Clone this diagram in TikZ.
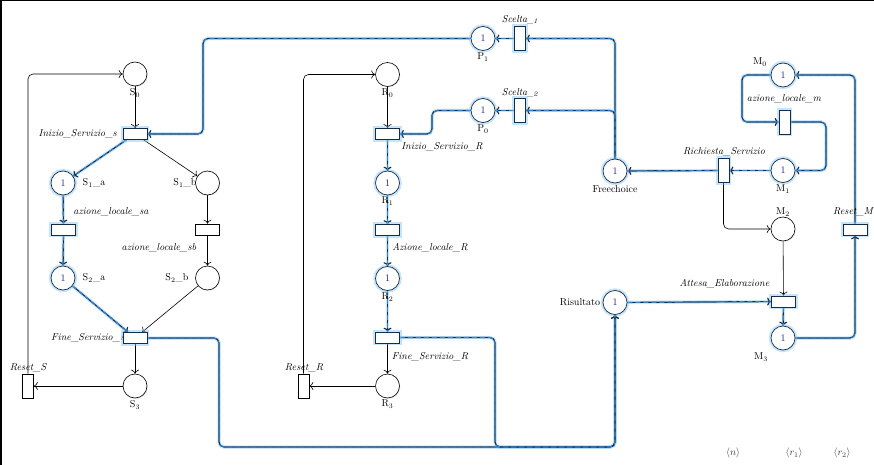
\documentclass[tikz,border=0pt]{standalone}
\usetikzlibrary{shadows,arrows.meta}
\definecolor{glowc}{RGB}{130,195,240}
\definecolor{hlblue}{RGB}{50,130,205}
\definecolor{hldark}{RGB}{20,45,75}
\definecolor{tokc}{RGB}{30,30,150}
\pgfdeclarelayer{bg}
\pgfsetlayers{bg,main}
\begin{document}
\begin{tikzpicture}[x=1pt,y=-1pt,>={To[length=4pt,width=8pt]},
  font=\fontsize{10}{12}\selectfont,
  shad/.style={drop shadow={opacity=0.2,shadow xshift=0.8pt,shadow yshift=-0.8pt}},
  glow/.style={preaction={draw=glowc,line width=4.5pt,opacity=0.45}},
  place/.style={circle,draw,line width=0.6pt,minimum size=24pt,inner sep=0pt,fill=white,shad},
  hplace/.style={circle,draw=hldark,line width=0.7pt,minimum size=24pt,inner sep=0pt,fill=white,text=tokc,glow},
  trans/.style={rectangle,draw,line width=0.6pt,minimum width=24pt,minimum height=11pt,inner sep=0pt,fill=white,shad},
  vtrans/.style={rectangle,draw,line width=0.6pt,minimum width=11pt,minimum height=24pt,inner sep=0pt,fill=white,shad},
  htrans/.style={rectangle,draw=hldark,line width=0.7pt,minimum width=24pt,minimum height=11pt,inner sep=0pt,fill=white,glow},
  hvtrans/.style={rectangle,draw=hldark,line width=0.7pt,minimum width=11pt,minimum height=24pt,inner sep=0pt,fill=white,glow},
  lab/.style={inner sep=0pt},
  tlab/.style={inner sep=0pt,font=\fontsize{10}{12}\selectfont\itshape},
  arc/.style={->,line width=0.6pt,rounded corners=5pt},
  harc/.style={->,draw=hldark,line width=1.2pt,rounded corners=5pt,
    preaction={draw=glowc,line width=3.5pt,opacity=0.4,-},
    postaction={draw=hlblue,line width=1.1pt,dash pattern=on 5pt off 3pt,-}}
]
\useasboundingbox (0,0) rectangle (874,465);
\draw[line width=1.5pt] (0.75,465) -- (0.75,0.75) -- (874,0.75);

% labels
\node[lab] (lS0) at (135,93) {S\textsubscript{0}};
\node[lab] (lS1a) at (94,183) {S\textsubscript{1}\_a};
\node[lab] (lS1b) at (185,183) {S\textsubscript{1}\_b};
\node[lab] (lS2a) at (94,278) {S\textsubscript{2}\_a};
\node[lab] (lS2b) at (177,278) {S\textsubscript{2}\_b};
\node[lab] (lS3) at (135,405) {S\textsubscript{3}};
\node[lab] (lR0) at (387.5,93) {R\textsubscript{0}};
\node[lab] (lR1) at (387.5,201) {R\textsubscript{1}};
\node[lab] (lR2) at (387.5,297) {R\textsubscript{2}};
\node[lab] (lR3) at (387.5,404) {R\textsubscript{3}};
\node[lab] (lP1) at (483,57) {P\textsubscript{1}};
\node[lab] (lP0) at (483,129) {P\textsubscript{0}};
\node[lab] (lFc) at (615,189) {Freechoice};
\node[lab] (lM0) at (760,62) {M\textsubscript{0}};
\node[lab] (lM1) at (783,189) {M\textsubscript{1}};
\node[lab] (lM2) at (783,212) {M\textsubscript{2}};
\node[lab] (lM3) at (761,357) {M\textsubscript{3}};
\node[lab] (lRis) at (580,302) {Risultato};

\node[tlab,anchor=east] (lIs) at (117,134) {Inizio\_Servizio\_s};
\node[tlab] (lazsa) at (111,212) {azione\_locale\_sa};
\node[tlab] (lazsb) at (159,248) {azione\_locale\_sb};
\node[tlab,anchor=west] (lFs) at (51,338) {Fine\_Servizio\_s};
\node[tlab] (lRS) at (28,368) {Reset\_S};
\node[tlab] (lIR) at (442,147) {Inizio\_Servizio\_R};
\node[tlab] (lazR) at (430,248) {Azione\_locale\_R};
\node[tlab] (lFR) at (430,357) {Fine\_Servizio\_R};
\node[tlab] (lRR) at (304,368) {Reset\_R};
\node[tlab] (lSc1) at (520,20) {Scelta\textsubscript{\_1}};
\node[tlab] (lSc2) at (520,93) {Scelta\textsubscript{\_2}};
\node[tlab] (lRq) at (724,152) {Richiesta\_Servizio};
\node[tlab] (lazm) at (784,99) {azione\_locale\_m};
\node[tlab] (lAE) at (724.5,284) {Attesa\_Elaborazione};
\node[tlab,anchor=east] (lRM) at (873,212) {Reset\_M};

\node[lab,text=black!80] (ln) at (733,453) {$\langle n\rangle$};
\node[lab,text=black!80] (lr1) at (794,453) {$\langle r_1\rangle$};
\node[lab,text=black!80] (lr2) at (842,453) {$\langle r_2\rangle$};

% places
\node[place] (S0) at (135,74) {};
\node[hplace] (S1a) at (63,183) {1};
\node[place] (S1b) at (207.5,183) {};
\node[hplace] (S2a) at (63,278) {1};
\node[place] (S2b) at (207.5,278) {};
\node[place] (S3) at (135,386) {};
\node[place] (R0) at (387.5,74.5) {};
\node[hplace] (R1) at (387.5,183) {1};
\node[hplace] (R2) at (387.5,278.5) {1};
\node[place] (R3) at (387.5,386) {};
\node[hplace] (P1) at (483,38.5) {1};
\node[hplace] (P0) at (483,110.5) {1};
\node[hplace] (Fc) at (615,171) {1};
\node[hplace] (M0) at (783,75) {1};
\node[hplace] (M1) at (783,170.5) {1};
\node[place] (M2) at (783,229) {};
\node[hplace] (M3) at (783,338) {1};
\node[hplace] (Ris) at (615,302.5) {1};

% transitions
\node[htrans] (Is) at (135,134) {};
\node[htrans] (azsa) at (63.5,229.5) {};
\node[trans] (azsb) at (207.5,229.5) {};
\node[htrans] (Fs) at (135,338) {};
\node[vtrans] (RS) at (28,386) {};
\node[htrans] (IR) at (387.5,134) {};
\node[htrans] (azR) at (387.5,230) {};
\node[htrans] (FR) at (387.5,337.5) {};
\node[vtrans] (RR) at (303.5,386) {};
\node[hvtrans] (Sc1) at (520,38.5) {};
\node[hvtrans] (Sc2) at (520,110.5) {};
\node[hvtrans] (Rq) at (723.5,170.5) {};
\node[hvtrans] (azm) at (784.5,122) {};
\node[htrans] (AE) at (783.5,301.5) {};
\node[htrans] (RM) at (855,229.5) {};

\begin{pgfonlayer}{bg}
% plain arcs
\draw[arc] (S0) -- (Is);
\draw[arc] (Is) -- (S1b);
\draw[arc] (S1b) -- (azsb);
\draw[arc] (azsb) -- (S2b);
\draw[arc] (S2b) -- (Fs);
\draw[arc] (Fs) -- (S3);
\draw[arc] (S3) -- (RS);
\draw[arc] (RS.north) |- (S0.west);
\draw[arc] (R0) -- (IR);
\draw[arc] (FR) -- (R3);
\draw[arc] (R3) -- (RR);
\draw[arc] (RR.north) |- (R0.west);
\draw[arc] (Rq.south) |- (M2.west);
\draw[arc] (M2) -- (AE);
% highlighted arcs
\draw[harc] (Is) -- (S1a);
\draw[harc] (S1a) -- (azsa);
\draw[harc] (azsa) -- (S2a);
\draw[harc] (S2a) -- (Fs);
\draw[harc] (IR) -- (R1);
\draw[harc] (R1) -- (azR);
\draw[harc] (azR) -- (R2);
\draw[harc] (R2) -- (FR);
\draw[harc] (Sc1) -- (P1);
\draw[harc] (Sc2) -- (P0);
\draw[harc] (Fc.north) |- (Sc1.east);
\draw[harc] (Fc.north) |- (Sc2.east);
\draw[harc] (P1.west) -| (203,134) -- (Is.east);
\draw[harc] (P0.west) -| (432,134) -- (IR.east);
\draw[harc] (Fs.east) -| (219,447) -| (Ris.south);
\draw[harc] (FR.east) -| (495,447) -| (Ris.south);
\draw[harc] (Ris) -- (AE);
\draw[harc] (AE) -- (M3);
\draw[harc] (M3.east) -| (RM.south);
\draw[harc] (RM.north) |- (M0.east);
\draw[harc] (M0.west) -| (742,122) -- (azm.west);
\draw[harc] (azm.east) -| (826,170.5) -- (M1.east);
\draw[harc] (M1) -- (Rq);
\draw[harc] (Rq) -- (Fc);
\end{pgfonlayer}
\end{tikzpicture}
\end{document}
